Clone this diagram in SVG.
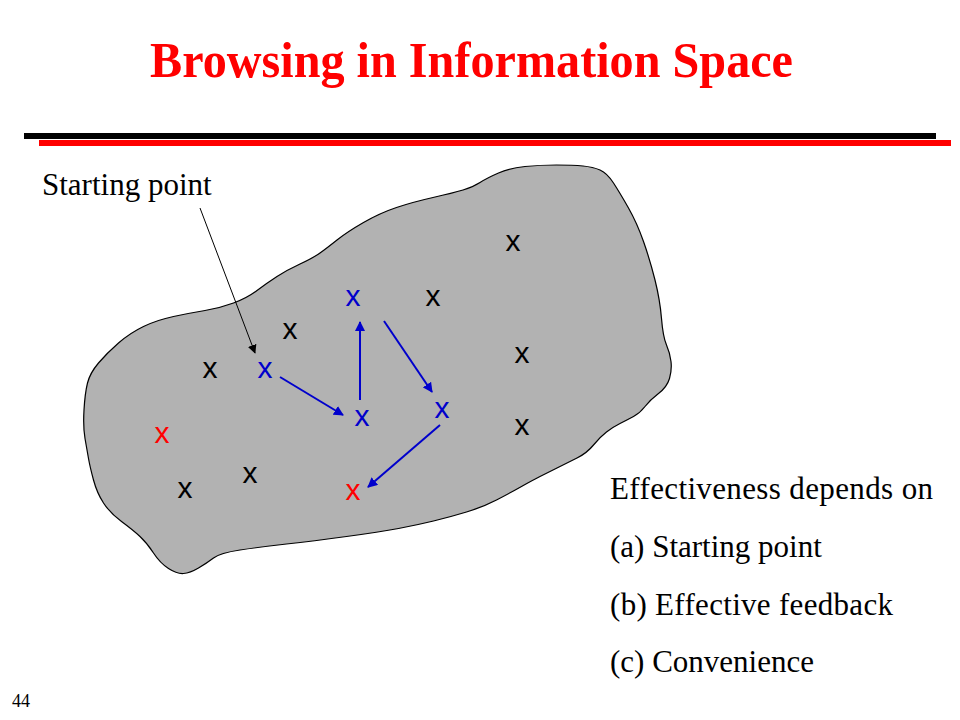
<svg xmlns="http://www.w3.org/2000/svg" width="960" height="720" viewBox="0 0 960 720">
<style>
.serif{font-family:"Liberation Serif","Times New Roman",serif;fill:#000}
.x{font-family:"Liberation Sans",Arial,sans-serif;font-size:30px;text-anchor:middle}
.xb{fill:#000}.xblue{fill:#0000cc}.xred{fill:#ff0000}
.blue{stroke:#0000cc;stroke-width:2;fill:none;marker-end:url(#ab)}
</style>
<defs>
<marker id="ab" viewBox="0 0 10 10" refX="9" refY="5" markerWidth="5" markerHeight="5" orient="auto" markerUnits="strokeWidth"><path d="M0,0 L10,5 L0,10 z" fill="#0000cc"/></marker>
<marker id="ak" viewBox="0 0 10 10" refX="9" refY="5" markerWidth="9" markerHeight="9" orient="auto" markerUnits="strokeWidth"><path d="M0,0 L10,5 L0,10 z" fill="#000"/></marker>
</defs>
<rect width="960" height="720" fill="#fff"/>
<g id="title">
<text x="150" y="77" font-family="'Liberation Serif','Times New Roman',serif" font-weight="bold" font-size="51" fill="#ff0000" textLength="643" lengthAdjust="spacingAndGlyphs">Browsing in Information Space</text>
<rect x="24" y="133" width="912" height="6" fill="#000"/>
<rect x="39" y="140" width="912" height="6" fill="#ff0000"/>
</g>
<g id="space">
<path d="M556.5,165 Q573,165 583,166 Q593,167 600,170 Q607,173 613.5,183 Q620,193 628.5,208 Q637,223 643.5,241.5 Q650,260 655,280 Q660,300 661.5,318.5 Q663,337 666.5,345 Q670,353 671,361.5 Q672,370 669.5,378.5 Q667,387 658.5,393.5 Q650,400 645,406.5 Q640,413 633.5,416.5 Q627,420 620,423.5 Q613,427 606.5,432 Q600,437 593.5,445 Q587,453 577,458 Q567,463 557,468 Q547,473 540,476.5 Q533,480 521.5,486.5 Q510,493 496.5,500 Q483,507 466.5,512 Q450,517 433.5,521 Q417,525 398.5,528.5 Q380,532 346.5,536.5 Q313,541 286.5,544 Q260,547 240,550 Q220,553 213.5,558 Q207,563 198.5,568 Q190,573 183.5,573.5 Q177,574 168.5,568.5 Q160,563 153.5,553 Q147,543 140,536.5 Q133,530 121.5,521.5 Q110,513 103.5,503 Q97,493 93.5,480 Q90,467 88.5,458.5 Q87,450 85,438.5 Q83,427 84,410 Q85,393 87.5,383 Q90,373 98.5,363 Q107,353 118.5,343 Q130,333 143.5,326.5 Q157,320 173.5,316.5 Q190,313 205,310.5 Q220,308 233.5,303 Q247,298 257,290.5 Q267,283 277,276.5 Q287,270 300,264 Q313,258 320,253 Q327,248 337,240 Q347,232 363.5,222.5 Q380,213 396.5,207.5 Q413,202 433,197.5 Q453,193 463,190 Q473,187 480,182.5 Q487,178 498.5,173 Q510,168 525,166.5 Q540,165 556.5,165 Z" fill="#b2b2b2" stroke="#000" stroke-width="1.2" stroke-linejoin="round"/>
</g>
<g id="points" class="x">
<text class="xb" x="513" y="251">x</text>
<text class="xb" x="433" y="306">x</text>
<text class="xb" x="290" y="339">x</text>
<text class="xb" x="210" y="378">x</text>
<text class="xb" x="522" y="363">x</text>
<text class="xb" x="522" y="435">x</text>
<text class="xb" x="250" y="483">x</text>
<text class="xb" x="185" y="498">x</text>
<text class="xblue" x="353" y="306">x</text>
<text class="xblue" x="265" y="378">x</text>
<text class="xblue" x="362" y="426">x</text>
<text class="xblue" x="442" y="418">x</text>
<text class="xred" x="162" y="443">x</text>
<text class="xred" x="353" y="500">x</text>
</g>
<g id="connectors">
<line x1="200" y1="208" x2="255" y2="353" stroke="#000" stroke-width="1" marker-end="url(#ak)"/>
<line class="blue" x1="280" y1="377" x2="343" y2="415"/>
<line class="blue" x1="360" y1="400" x2="360" y2="322"/>
<line class="blue" x1="384" y1="321" x2="432" y2="392"/>
<line class="blue" x1="440" y1="425" x2="368" y2="487"/>
</g>
<g id="labels" class="serif" font-size="31">
<text x="42" y="195">Starting point</text>
<text x="610" y="499" textLength="323" lengthAdjust="spacing">Effectiveness depends on</text>
<text x="610" y="557">(a) Starting point</text>
<text x="610" y="615" textLength="283" lengthAdjust="spacing">(b) Effective feedback</text>
<text x="610" y="672">(c) Convenience</text>
<text x="12" y="707" font-size="18">44</text>
</g>
</svg>
